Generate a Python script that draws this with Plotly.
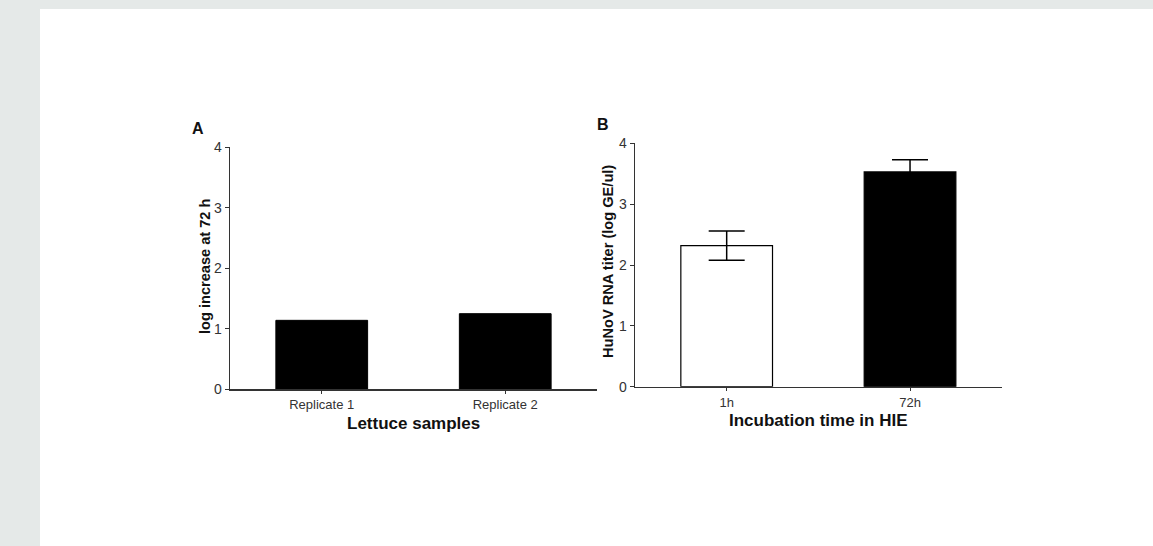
import plotly.graph_objects as go

W, H = 1153, 546

# Panel A data
a_categories = ["Replicate 1", "Replicate 2"]
a_values = [1.14, 1.25]

# Panel B data
b_categories = ["1h", "72h"]
b_values = [2.32, 3.53]
b_errors = [0.24, 0.20]
b_colors = ["white", "black"]

y_ticks = [0, 1, 2, 3, 4]

def px(x):
    return x / W

def py(y):
    return 1 - y / H

FONT = "Liberation Sans, Arial, sans-serif"
AXC = "#333333"

fig = go.Figure()

fig.add_trace(go.Bar(
    x=a_categories, y=a_values, width=0.5,
    marker=dict(color="black", line=dict(color="black", width=1)),
    xaxis="x", yaxis="y", showlegend=False,
))

fig.add_trace(go.Bar(
    x=b_categories, y=b_values, width=0.5,
    marker=dict(color=b_colors, line=dict(color="black", width=1.2)),
    error_y=dict(type="data", array=b_errors, visible=True, color="black",
                 thickness=1.5, width=18),
    xaxis="x2", yaxis="y2", showlegend=False,
))

axis_common = dict(
    showgrid=False, zeroline=False, showline=True, linecolor=AXC, linewidth=1.5,
    fixedrange=True, automargin=False,
)
xfont = dict(family=FONT, size=13, color=AXC)
yfont = dict(family=FONT, size=14, color=AXC)

fig.update_layout(
    template="none",
    width=W, height=H,
    margin=dict(l=0, r=0, t=0, b=0, pad=0, autoexpand=False),
    paper_bgcolor="#e5e9e8",
    plot_bgcolor="rgba(0,0,0,0)",
    bargap=0,
    xaxis=dict(domain=[px(230), px(597)], anchor="y", range=[-0.5, 1.5],
               ticks="outside", ticklen=3, tickcolor=AXC, tickfont=xfont, **axis_common),
    yaxis=dict(domain=[py(389.3), py(147.3)], anchor="x", range=[0, 4],
               tickvals=y_ticks, ticks="outside", ticklen=4, tickcolor=AXC,
               tickfont=yfont, **axis_common),
    xaxis2=dict(domain=[px(635), px(1001.7)], anchor="y2", range=[-0.5, 1.5],
                ticks="outside", ticklen=3, tickcolor=AXC, tickfont=xfont, **axis_common),
    yaxis2=dict(domain=[py(386.7), py(143.3)], anchor="x2", range=[0, 4],
                tickvals=y_ticks, ticks="outside", ticklen=4, tickcolor=AXC,
                tickfont=yfont, **axis_common),
    shapes=[
        dict(type="rect", xref="paper", yref="paper",
             x0=px(40), x1=1, y0=0, y1=py(9),
             fillcolor="white", line=dict(width=0), layer="below"),
    ],
)

anns = [
    dict(text="<b>A</b>", x=px(197.5), y=py(128.5), size=16, angle=0),
    dict(text="<b>B</b>", x=px(603), y=py(125), size=16, angle=0),
    dict(text="<b>log increase at 72 h</b>", x=px(205), y=py(266), size=14.6, angle=-90),
    dict(text="<b>HuNoV RNA titer (log GE/ul)</b>", x=px(608), y=py(262), size=14.6, angle=-90),
    dict(text="<b>Lettuce samples</b>", x=px(413), y=py(423), size=17, angle=0),
    dict(text="<b>Incubation time in HIE</b>", x=px(818), y=py(420), size=17, angle=0),
]
for a in anns:
    fig.add_annotation(
        text=a["text"], x=a["x"], y=a["y"], xref="paper", yref="paper",
        xanchor="center", yanchor="middle", showarrow=False, textangle=a["angle"],
        font=dict(family=FONT, size=a["size"], color="#111111"),
    )

fig.write_html(
    "out.html",
    config={"displayModeBar": False, "staticPlot": True},
    post_script=(
        "document.documentElement.style.margin='0';"
        "document.body.style.margin='0';"
        "document.body.style.overflow='hidden';"
        "var d=document.getElementById('{plot_id}');"
        "d.style.position='fixed';d.style.left='0px';d.style.top='0px';"
    ),
)
